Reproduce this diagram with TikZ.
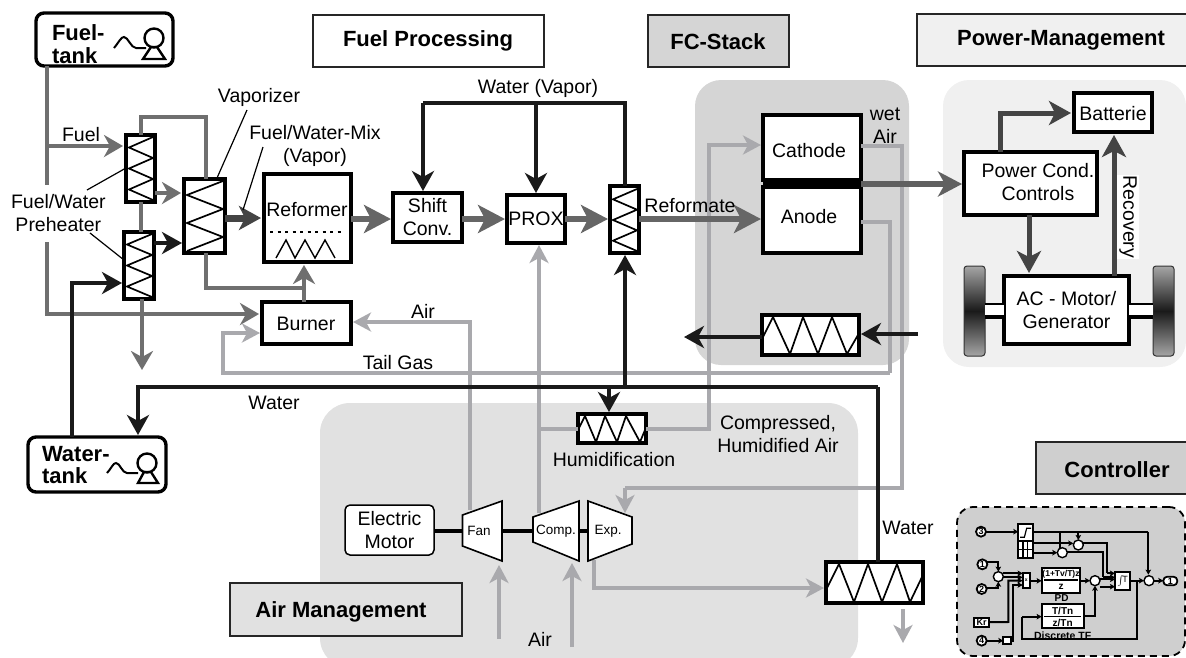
\documentclass[tikz,border=0pt]{standalone}
\usepackage{fontspec}
\setmainfont{Liberation Sans}
\usetikzlibrary{arrows.meta,calc}
\definecolor{fuelc}{HTML}{6F6F6F}
\definecolor{refc}{HTML}{666666}
\definecolor{darkc}{HTML}{444444}
\definecolor{airc}{HTML}{A9A9AD}
\definecolor{watc}{HTML}{1A1A1A}
\definecolor{fcbg}{HTML}{D5D5D5}
\definecolor{airbg}{HTML}{E1E1E1}
\definecolor{pwbg}{HTML}{F0F0F0}
\definecolor{ctbg}{HTML}{CFCFCF}
\tikzset{
  txt/.style={font=\fontsize{19.5}{23}\selectfont,align=center,inner sep=0,outer sep=0},
  tiny/.style={font=\fontsize{13.5}{16}\selectfont,align=center,inner sep=0,outer sep=0},
  head/.style={font=\bfseries\fontsize{22}{24}\selectfont,align=center,inner sep=0,outer sep=0},
  tanktxt/.style={font=\bfseries\fontsize{22}{22.5}\selectfont,align=left,inner sep=0,outer sep=0,anchor=west},
  titlebox/.style={draw=black!85,line width=1.5pt,inner sep=0,outer sep=0},
  pbox/.style={draw=black,line width=3.6pt,fill=white,inner sep=0,outer sep=0,font=\fontsize{19.5}{23}\selectfont,align=center},
  tankbox/.style={draw=black,line width=3.4pt,fill=white,rounded corners=8pt,inner sep=0,outer sep=0},
  zig/.style={draw=black,line width=1.7pt,line join=miter},
  lead/.style={draw=black,line width=1.2pt},
  flfuel/.style={draw=fuelc,line width=4pt,-{Stealth[length=19pt,width=22pt,inset=6pt]},shorten >=3pt},
  lnfuel/.style={draw=fuelc,line width=4pt},
  flair/.style={draw=airc,line width=3.5pt,-{Stealth[length=18pt,width=19pt,inset=5pt]},shorten >=2pt},
  lnair/.style={draw=airc,line width=3.5pt},
  flwat/.style={draw=watc,line width=4pt,-{Stealth[length=20pt,width=22pt,inset=6pt]},shorten >=2pt},
  lnwat/.style={draw=watc,line width=4pt},
  flref/.style={draw=refc,line width=6pt,-{Stealth[length=27pt,width=28pt,inset=7pt]},shorten >=2pt},
  flpow/.style={draw=darkc!85!white,line width=5.5pt,-{Stealth[length=24pt,width=25pt,inset=7pt]},shorten >=2pt},
  flgen/.style={draw=darkc,line width=5pt,-{Stealth[length=22pt,width=24pt,inset=6pt]},shorten >=3pt},
  wheel/.style={draw=black!80,line width=1pt,rounded corners=3pt,top color=black!35,bottom color=black!35,middle color=black!90,inner sep=0,outer sep=0},
  turbo/.style={draw=black,line width=1.6pt,fill=white,line join=miter},
  cline/.style={draw=black,line width=2pt},
  carr/.style={draw=black,line width=2pt,-{Stealth[length=5pt,width=5.5pt,inset=1pt]}},
  csum/.style={circle,draw=black,line width=1.4pt,fill=white,minimum size=10pt,inner sep=0,outer sep=0},
  cport/.style={circle,draw=black,line width=1.8pt,fill=white,minimum size=10pt,inner sep=0,outer sep=0,font=\bfseries\fontsize{9}{9}\selectfont},
  cbox/.style={draw=black,line width=1.8pt,fill=white,inner sep=0,outer sep=0,align=center},
  ctxt/.style={font=\bfseries\fontsize{10.5}{11}\selectfont,inner sep=0,outer sep=0},
}
% box by its corners: name, x1, y1, x2, y2, style, text
\newcommand\bx[7]{\node[#6,minimum width={#4-#2},minimum height={#5-#3}] (#1) at ({(#2+#4)/2},{(#3+#5)/2}) {#7};}
% box in the controller scope, where coordinates count three to the pixel
\newcommand\cb[7]{\node[#6,minimum width={(#4-#2)/3},minimum height={(#5-#3)/3}] (#1) at ({(#2+#4)/2},{(#3+#5)/2}) {#7};}
% zigzag in a tall box
\newcommand\vzig[5]{\draw[zig] (#3,#2) \foreach \i in {1,...,#5} { -- ({mod(\i,2)==1 ? #1 : #3},{#2+\i*(#4-#2)/#5}) };}
\begin{document}
\begin{tikzpicture}[x=1pt,y=-1pt]
\useasboundingbox (0,0) rectangle (1186,657);
\clip (0,0) rectangle (1186,657);
% ---------- background regions
\bx{fcregion}{695}{80}{909}{365}{fill=fcbg,rounded corners=26pt,inner sep=0,outer sep=0}{}
\bx{pwregion}{943}{80}{1186}{367}{fill=pwbg,rounded corners=26pt,inner sep=0,outer sep=0}{}
\bx{airregion}{320}{403}{858}{668}{fill=airbg,rounded corners=30pt,inner sep=0,outer sep=0}{}
\bx{ctregion}{957}{507}{1185}{656}{fill=ctbg,draw=black,line width=1.8pt,dash pattern=on 7pt off 5pt,rounded corners=16pt,inner sep=0,outer sep=0}{}
% ---------- section titles
\bx{tfuel}{313}{15}{544}{67}{titlebox,fill=white}{}
\node[head] (tfueltxt) at (428,41) {Fuel Processing};
\bx{tfc}{648}{15}{789}{67}{titlebox,fill=fcbg}{}
\node[head] (tfctxt) at (718,42) {FC-Stack};
\bx{tpw}{917}{14}{1190}{66}{titlebox,fill=pwbg}{}
\node[head] (tpwtxt) at (1061,40) {Power-Management};
\bx{tct}{1036}{442}{1190}{494}{titlebox,fill=ctbg}{}
\node[head] (tcttxt) at (1117,470) {Controller};
\bx{tair}{230}{583}{462}{636}{titlebox,fill=airbg}{}
\node[head] (tairtxt) at (341,612) {Air Management};
% ---------- junction points
\coordinate (fa) at (47,146);
\coordinate (fb) at (47,185);
\coordinate (fc) at (47,242);
\coordinate (fd) at (47,314);
\coordinate (la) at (141,117);
\coordinate (lb) at (206,117);
\coordinate (lc) at (206,288);
\coordinate (ld) at (304,288);
\coordinate (tga) at (223,333);
\coordinate (tgb) at (223,373);
\coordinate (tgc) at (890,373);
\coordinate (tgd) at (890,222);
\coordinate (aira) at (470,322);
\coordinate (wa) at (902,146);
\coordinate (wb) at (902,488);
\coordinate (wc) at (625,488);
\coordinate (ha) at (709,429);
\coordinate (hb) at (709,145);
\coordinate (ea) at (594,588);
\coordinate (wta) at (138,387);
\coordinate (wtb) at (878,387);
\coordinate (wtc) at (625,387);
\coordinate (wtd) at (609,387);
\coordinate (pa) at (72,283);
\coordinate (vapa) at (423,103);
\coordinate (vapb) at (625,103);
\coordinate (vapc) at (536,103);
\coordinate (out1) at (142,373);
\coordinate (cin) at (918,334);
\coordinate (cout) at (682,337);
\coordinate (drain) at (903,609);
\coordinate (drainb) at (903,645);
\coordinate (fanin) at (499,639);
\coordinate (compin) at (572,647);
\coordinate (prx) at (539,429);
\coordinate (fanup) at (470,510);
\coordinate (compup) at (539,513);
\coordinate (expin) at (625,515);
\coordinate (expout) at (594,560);
\coordinate (pca) at (1000,113);
\coordinate (vapy) at (0,193);
% ---------- process boxes
\bx{ftank}{36}{13}{173}{66}{tankbox}{}
\bx{wtank}{28}{437}{166}{492}{tankbox}{}
\bx{pre1}{126}{135}{155}{202}{pbox}{}
\bx{pre2}{124}{232}{154}{299}{pbox}{}
\bx{vap}{184}{179}{225}{253}{pbox}{}
\bx{refm}{264}{174}{351}{262}{pbox}{}
\bx{burn}{262}{302}{351}{344}{pbox}{}
\bx{shift}{393}{193}{462}{242}{pbox}{Shift\\Conv.}
\bx{prox}{507}{195}{565}{243}{pbox}{PROX}
\bx{h3}{610}{186}{639}{253}{pbox}{}
\bx{cath}{763}{115}{861}{180}{pbox}{}
\bx{anod}{763}{187}{861}{253}{pbox}{}
\bx{stk}{762}{315}{859}{355}{pbox}{}
\bx{hum}{578}{414}{646}{443}{pbox}{}
\bx{cond}{826}{562}{923}{603}{pbox}{}
\bx{pcond}{964}{152}{1097}{215}{pbox}{}
\bx{batt}{1074}{93}{1152}{132}{pbox}{}
\bx{wl}{964}{266}{985}{356}{wheel}{}
\bx{wr}{1153}{266}{1174}{356}{wheel}{}
\bx{acm}{1004}{276}{1129}{344}{pbox}{AC - Motor/\\Generator}
\bx{motor}{345}{505}{434}{555}{draw=black,line width=1.5pt,fill=white,rounded corners=5pt,inner sep=0,outer sep=0,font=\fontsize{19.5}{23}\selectfont,align=center}{Electric\\Motor}
\fill[black] (cath.south west) rectangle (anod.north east);
% ---------- fuel lines
\draw[lnfuel] (ftank.south-|fb) -- (fb);
\draw[flfuel] (fa) -- (pre1.west|-fa);
\draw[flfuel] (fc) -- (fd) -- (burn.west|-fd);
\draw[lnfuel] (pre1.north-|la) -- (la) -- (lb) -- (vap.north-|lb);
\draw[lnfuel] (vap.south-|lc) -- (lc) -- (ld);
\draw[lnfuel] (pre1.south-|la) -- (pre2.north-|la);
\draw[flfuel] (pre2.south-|out1) -- (out1);
\draw[flfuel] (pre1.east|-vapy) -- (vap.west|-vapy);
\draw[flfuel] (burn.north-|ld) -- (refm.south-|ld);
% ---------- air lines
\draw[flair] (tgc) -- (tgb) -- (tga) -- (burn.west|-tga);
\draw[lnair] (tgc) -- (tgd) -- (anod.east|-tgd);
\draw[flair] (fanup) -- (aira) -- (burn.east|-aira);
\draw[lnair] (cath.east|-wa) -- (wa) -- (wb) -- (wc);
\draw[flair] (wc) -- (expin);
\draw[flair] (compup) -- (prox.south-|compup);
\draw[lnair] (prx) -- (hum.west|-prx);
\draw[flair] (hum.east|-ha) -- (ha) -- (hb) -- (cath.west|-hb);
\draw[flair] (expout) -- (ea) -- (cond.west|-ea);
\draw[flair] (fanin) -- (499,563);
\draw[flair] (compin) -- (572,561);
\draw[flair] (drain) -- (drainb);
% ---------- water lines
\draw[flwat] (wtb) -- (wta) -- (wtank.north-|wta);
\draw[lnwat] (wtb) -- (cond.north-|wtb);
\draw[flwat] (wtank.north-|pa) -- (pa) -- (pre2.west|-pa);
\draw[flwat] (wtc) -- (h3.south-|wtc);
\draw[flwat] (wtd) -- (hum.north-|wtd);
\draw[lnwat] (vapa) -- (vapb) -- (h3.north-|vapb);
\draw[flwat] (vapa) -- (shift.north-|vapa);
\draw[flwat] (vapc) -- (prox.north-|vapc);
\draw[flwat] (pre2.east|-0,243) -- (vap.west|-0,243);
\draw[flwat] (stk.west|-cout) -- (cout);
\draw[flwat] (cin) -- (stk.east|-cin);
% ---------- texts placed off centre in their boxes
\node[txt] (burntxt) at (306,324) {Burner};
\node[txt] (reftxt) at (307,210) {Reformer};
\node[txt] (cathtxt) at (809,151) {Cathode};
\node[txt] (anodtxt) at (809,217) {Anode};
\node[txt] (pctxt) at (1038,182) {Power Cond.\\Controls};
\node[txt] (batttxt) at (1113,114) {Batterie};
\node[tanktxt] (ftxt) at (52,44) {Fuel-\\tank};
\node[tanktxt] (wtxt) at (42,465) {Water-\\tank};
% ---------- exchanger zigzags
\vzig{129}{137}{153}{200}{6}
\vzig{127}{234}{152}{297}{6}
\vzig{187}{181}{223}{251}{5}
\vzig{613}{189}{637}{251}{6}
\draw[zig] (579,428)--(585,416)--(596,442)--(605,416)--(617,442)--(626,416)--(640,442)--(645,430);
\draw[zig] (763,337)--(773,317)--(790,354)--(803,317)--(818,354)--(832,317)--(847,354)--(858,335);
\draw[zig] (827,588)--(839,564)--(854,602)--(868,564)--(882,602)--(897,564)--(910,602)--(922,577);
\draw[zig,line width=1.4pt] (276,258)--(286,240)--(295,258)--(305,240)--(315,258)--(325,240)--(335,258);
\draw[black,line width=2.5pt,dash pattern=on 3pt off 4.5pt] (270,232) -- (345,232);
% ---------- pumps
\draw[black,line width=2pt] (114,48) .. controls (119,42) and (121,37) .. (124,37) .. controls (128,37) and (131,48) .. (136,48) -- (146,48);
\draw[black,line width=2.4pt] (154,38) circle (9.5);
\draw[black,line width=2.4pt] (143,59) -- (165,59) -- (157,47) -- (151,47) -- cycle;
\draw[black,line width=2pt] (107,473) .. controls (111,469) and (113,463) .. (116,463) .. controls (120,463) and (122,473) .. (127,473) -- (138,473);
\draw[black,line width=2.4pt] (147,463) circle (9.5);
\draw[black,line width=2.4pt] (138,483) -- (158,483) -- (151,472) -- (144,472) -- cycle;
% ---------- axles and shaft
\fill[white] (wl.east|-0,304) rectangle (acm.west|-0,316);
\fill[white] (acm.east|-0,304) rectangle (wr.west|-0,316);
\draw[black,line width=2pt] (wl.east|-0,304) -- (acm.west|-0,304);
\draw[black,line width=4pt] (wl.east|-0,317) -- (acm.west|-0,317);
\draw[black,line width=2pt] (acm.east|-0,304) -- (wr.west|-0,304);
\draw[black,line width=4pt] (acm.east|-0,317) -- (wr.west|-0,317);
% ---------- turbomachines
\coordinate (fan1) at (462.5,515); \coordinate (fan2) at (502,501); \coordinate (fan3) at (502,561); \coordinate (fan4) at (462.5,546);
\coordinate (cmp1) at (533,517); \coordinate (cmp2) at (579,501); \coordinate (cmp3) at (579,561); \coordinate (cmp4) at (533,542);
\coordinate (exp1) at (588,501); \coordinate (exp2) at (632,517); \coordinate (exp3) at (632,544); \coordinate (exp4) at (588,561);
\draw[black,line width=3.5pt] (motor.east|-0,531) -- (fan1|-0,531);
\draw[black,line width=3.5pt] (fan2|-0,531) -- (cmp1|-0,531);
\draw[black,line width=3.5pt] (cmp2|-0,531) -- (exp1|-0,531);
\draw[turbo] (fan1)--(fan2)--(fan3)--(fan4)--cycle;
\draw[turbo] (cmp1)--(cmp2)--(cmp3)--(cmp4)--cycle;
\draw[turbo] (exp1)--(exp2)--(exp3)--(exp4)--cycle;
\node[tiny] (fantxt) at (479,531) {Fan};
\node[tiny] (comptxt) at (556,531) {Comp.};
\node[tiny] (exptxt) at (608,531) {Exp.};
% ---------- thick flows
\draw[flgen,line width=7pt,draw=darkc] (vap.east|-0,218) -- (refm.west|-0,218);
\draw[flref] (refm.east|-0,219) -- (shift.west|-0,219);
\draw[flref] (shift.east|-0,219) -- (prox.west|-0,219);
\draw[flref] (prox.east|-0,219) -- (h3.west|-0,219);
\draw[flref] (h3.east|-0,219) -- (anod.west|-0,219);
\draw[flpow] (cath.south east) ++(0,4) -- (pcond.west|-0,184);
\draw[flgen] (pcond.north-|pca) -- (pca) -- (batt.west|-pca);
\draw[flgen] (pcond.south-|1029,0) -- (acm.north-|1029,0);
\draw[flgen] (acm.north-|1114,0) -- (batt.south-|1114,0);
% ---------- leaders
\draw[lead] (pre1.west|-0,168) -- (87,190);
\draw[lead] (90,233) -- (pre2.west|-0,260);
\draw[lead] (247,110) -- (217,178);
\draw[lead] (263,147) -- (243,210);
% ---------- labels
\node[txt] (lfuel) at (81,135) {Fuel};
\node[txt,anchor=west] (lprehe) at (11,213) {Fuel/Water\\Preheater};
\node[txt] (lvap) at (259,97) {Vaporizer};
\node[txt] (lmix) at (315,146) {Fuel/Water-Mix\\(Vapor)};
\node[txt] (lwv) at (538,88) {Water (Vapor)};
\node[txt] (lref) at (690,206) {Reformate};
\node[txt] (lwet) at (885,126) {wet\\Air};
\node[txt] (lair1) at (423,311) {Air};
\node[txt] (ltail) at (398,363) {Tail Gas};
\node[txt] (lwat1) at (274,403) {Water};
\node[txt] (lcomp) at (778,434) {Compressed,\\Humidified Air};
\node[txt] (lhum) at (614,460) {Humidification};
\node[txt] (lair2) at (540,639) {Air};
\node[txt] (lwat2) at (908,528) {Water};
\node[txt,rotate=-90,fill=white,inner xsep=1pt,inner ysep=2pt] (lrec) at (1128,217) {Recovery};
% ---------- controller
\begin{scope}[shift={(950,510)},x=0.3333pt,y=-0.3333pt]
\node[cport] (p3) at (93,65) {3};
\node[cport] (p1) at (97,163) {1};
\node[cport] (p2) at (95,237) {2};
\node[cport] (p4) at (95,392) {4};
\cb{kr}{72}{323}{118}{350}{cbox,font=\bfseries\fontsize{9}{9}\selectfont}{Kr}
\cb{sat}{205}{43}{248}{92}{cbox}{}
\cb{mux}{205}{92}{248}{145}{cbox}{}
\cb{mlt}{218}{190}{240}{235}{cbox}{}
\cb{gate}{160}{382}{182}{402}{cbox}{}
\cb{pd}{275}{175}{390}{248}{cbox}{}
\cb{tf}{275}{283}{402}{355}{cbox}{}
\cb{lim}{495}{185}{540}{240}{cbox}{}
\node[csum] (s1) at (385,105) {};
\node[csum] (s2) at (337,128) {};
\node[csum] (s3) at (145,200) {};
\node[csum] (s4) at (435,212) {};
\node[csum] (s5) at (597,212) {};
\cb{ot}{640}{200}{682}{226}{cbox,rounded corners=4pt,font=\bfseries\fontsize{9}{9}\selectfont}{1}
\node[ctxt,font=\bfseries\fontsize{8.5}{10}\selectfont] (pdn) at (333,192) {(1+Tv/T)z};
\node[ctxt,font=\bfseries\fontsize{10}{10}\selectfont] (pdd) at (333,232) {z};
\node[ctxt,font=\bfseries\fontsize{10}{10}\selectfont] (tfn) at (338,302) {T/Tn};
\node[ctxt,font=\bfseries\fontsize{10}{10}\selectfont] (tfd) at (338,338) {z/Tn};
\draw[black,line width=1.2pt] (283,210) -- (385,210);
\draw[black,line width=1.2pt] (283,320) -- (392,320);
\node[ctxt,font=\bfseries\fontsize{10}{10}\selectfont] (pdl) at (335,265) {PD};
\node[ctxt] (tfl) at (338,377) {Discrete TF};
\node[ctxt,font=\fontsize{9}{9}\selectfont] (limt) at (518,212) {$\int$\!T};
\node[ctxt,font=\bfseries\fontsize{5}{5}\selectfont] (mltt) at (229,212) {x};
\draw[black,line width=1.2pt] (210,82) -- (223,82) -- (230,55) -- (243,55);
\draw[black,line width=1.2pt] (205,118) -- (248,118) (219,92) -- (219,145) (233,92) -- (233,145);
\draw[carr] (p3) -- (sat.west|-p3);
\draw[cline] (sat.east|-p3) -- (595,65);
\draw[carr] (595,65) -- (595,194);
\draw[carr] (385,65) -- (s1.north);
\draw[cline] (330,65) -- (330,115);
\draw[carr] (248,100) -- (s1.west|-0,100);
\draw[carr] (248,128) -- (s2.west);
\draw[cline] (s1.east|-0,100) -- (472,100) -- (472,190);
\draw[carr] (472,190) -- (lim.west|-0,190);
\draw[cline] (s2.east|-0,125) -- (458,125) -- (458,202);
\draw[carr] (458,202) -- (lim.west|-0,202);
\draw[carr] (p1.east|-0,155) -- (145,155) -- (s3.north);
\draw[carr] (p2.east|-0,233) -- (145,233) -- (s3.south);
\draw[carr] (s3.east|-0,190) -- (mlt.west|-0,190);
\draw[carr] (s3.east|-0,202) -- (mlt.west|-0,202);
\draw[carr] (kr.east) -- (175,336) -- (175,212) -- (mlt.west|-0,212);
\draw[carr] (p4) -- (gate.west);
\draw[carr] (gate.east) -- (190,392) -- (190,225) -- (mlt.west|-0,225);
\draw[carr] (mlt.east) -- (pd.west|-mlt);
\draw[carr] (pd.east|-s4) -- (s4.west);
\draw[carr] (tf.east|-0,318) -- (435,318) -- (s4.south);
\draw[carr] (s4.east|-0,230) -- (lim.west|-0,230);
\draw[carr] (s4.east|-0,208) -- (lim.west|-0,208);
\draw[carr] (lim.east|-s5) -- (s5.west);
\draw[carr] (s5.east) -- (ot.west|-s5);
\draw[cline] (560,212) -- (560,388) -- (217,388) -- (217,320);
\draw[carr] (217,320) -- (tf.west|-0,320);
\end{scope}
\end{tikzpicture}
\end{document}
